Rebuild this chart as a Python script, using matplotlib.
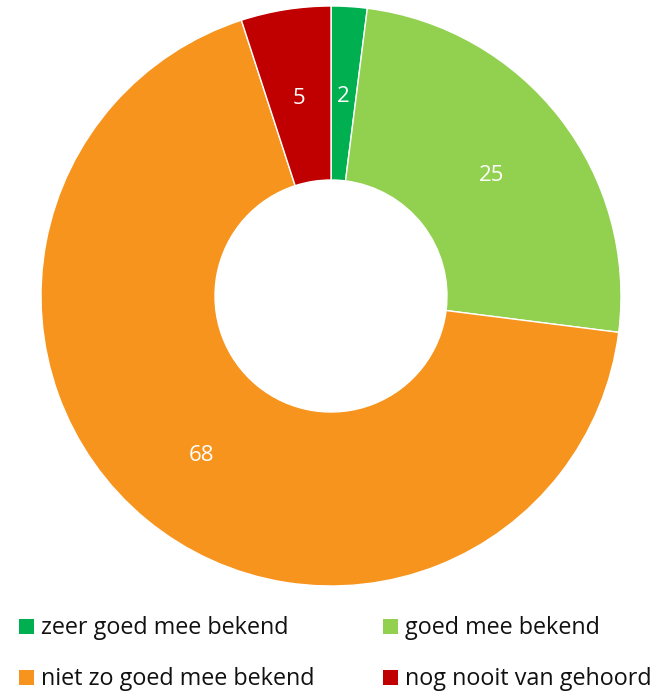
import matplotlib.pyplot as plt
from matplotlib.patches import Rectangle

plt.rcParams['font.family'] = ['Open Sans', 'DejaVu Sans']

categories = ['zeer goed mee bekend', 'goed mee bekend',
              'niet zo goed mee bekend', 'nog nooit van gehoord']
values = [2, 25, 68, 5]
colors = ['#00B050', '#92D050', '#F7941D', '#C00000']

W, H = 663, 691
fig = plt.figure(figsize=(W / 100, H / 100), dpi=100)
ax = fig.add_axes([41 / W, 105 / H, 580 / W, 580 / H])

wedges, texts = ax.pie(values, colors=colors, startangle=90, counterclock=False,
                       radius=1, labels=[str(v) for v in values], labeldistance=0.7,
                       wedgeprops=dict(width=0.6, edgecolor='white', linewidth=1),
                       textprops=dict(color='white', fontsize=16, ha='center', va='center'))
# labels iets lager, zoals in het origineel
for t in texts:
    x, y = t.get_position()
    t.set_position((x, y - 0.012))
ax.set_xlim(-1, 1)
ax.set_ylim(-1, 1)
ax.set_aspect('equal')

# legenda: twee kolommen, rij voor rij
col_x = [19, 383]     # linkerrand van het vierkantje (px)
row_base = [634, 685]  # basislijn van de tekst (px vanaf boven)
sq = 15
for i, (name, c) in enumerate(zip(categories, colors)):
    x0 = col_x[i % 2]
    yb = row_base[i // 2]
    fig.add_artist(Rectangle((x0 / W, 1 - yb / H), sq / W, sq / H,
                             transform=fig.transFigure, facecolor=c, edgecolor='none'))
    fig.text((x0 + sq + 7) / W, 1 - yb / H, name, fontsize=16.8,
             ha='left', va='baseline', color='#111111')

fig.savefig('out.png', dpi=100)
